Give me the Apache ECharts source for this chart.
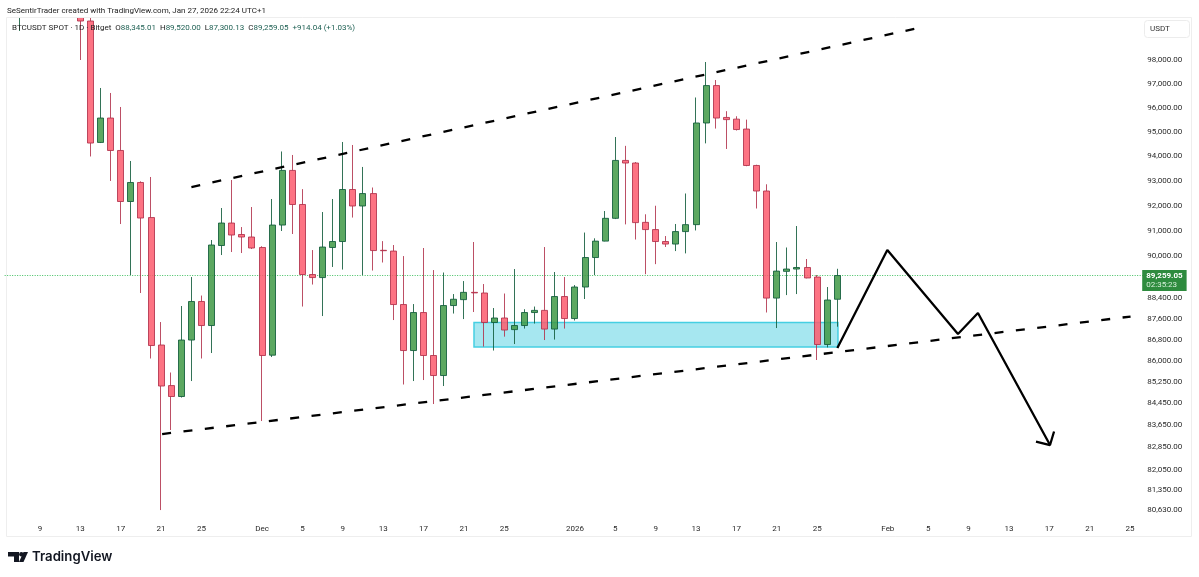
<!DOCTYPE html>
<html lang="en">
<head>
    <meta charset="UTF-8">
    <title>BTCUSDT 1D</title>
    <script src="https://cdn.jsdelivr.net/npm/echarts@6/dist/echarts.min.js"></script>
    <style>
        html, body { margin: 0; padding: 0; background: #fff; }
        #main { width: 1199px; height: 577px; }
    </style>
</head>
<body>
    <div id="main"></div>
    <script type="text/javascript">
        // daily candles from 6 Nov 2025: [open, close, low, high], null = off screen / no candle
        const candles = [
            null,
            [100300, 100900, 99240, 101500],
            null, null, null, null, null,
            [100500, 99670, 98000, 101800],
            [99670, 94535, 93986, 100200],
            [94560, 95565, 94535, 96818],
            [95565, 94231, 92993, 96609],
            [94231, 92169, 91274, 96024],
            [92169, 92932, 89278, 93802],
            [92932, 91512, 88585, 92980],
            [91530, 86591, 86105, 93154],
            [86610, 85084, 80630, 87477],
            [85100, 84698, 83477, 85584],
            [84698, 86797, 84660, 88087],
            [86797, 88260, 85268, 89200],
            [88260, 87345, 86105, 88488],
            [87345, 90447, 86310, 90643],
            [90428, 91313, 90055, 91910],
            [91313, 90840, 90173, 93033],
            [90860, 90762, 90134, 91155],
            [90762, 90330, 90290, 91950],
            [90350, 86217, 83803, 90400],
            [86230, 91233, 86160, 92269],
            [91233, 93420, 90998, 94190],
            [93420, 92050, 90880, 94047],
            [92050, 89298, 88067, 92665],
            [89298, 89180, 88911, 90250],
            [89180, 90368, 87705, 91750],
            [90350, 90584, 89590, 92269],
            [90584, 92650, 89490, 94578],
            [92650, 91990, 91530, 94455],
            [91990, 92487, 89278, 93560],
            [92487, 90230, 89452, 92730],
            [90240, 90225, 89764, 90600],
            [90210, 88143, 87553, 90447],
            [88143, 86403, 85140, 90015],
            [86403, 87838, 85268, 88162],
            [87838, 86217, 85305, 90330],
            [86217, 85472, 84423, 89470],
            [85472, 88105, 85084, 89375],
            [88105, 88345, 87800, 88545],
            [88330, 88610, 87590, 89045],
            [88610, 88590, 87858, 90565],
            [88585, 87460, 86553, 88930],
            [87460, 87630, 86403, 88010],
            [87630, 87175, 86925, 88565],
            [87190, 87345, 86647, 89510],
            [87345, 87838, 87230, 87965],
            [87838, 87920, 87420, 88067],
            [87920, 87210, 86797, 90368],
            [87210, 88450, 86815, 89395],
            [88450, 87610, 87230, 89200],
            [87610, 88815, 87535, 88890],
            [88815, 89958, 88355, 90937],
            [89958, 90600, 89278, 90710],
            [90600, 91500, 90590, 91790],
            [91500, 93825, 91470, 94782],
            [93825, 93720, 91260, 94420],
            [93720, 91330, 90663, 93760],
            [91340, 91055, 89310, 91660],
            [91055, 90584, 89700, 92000],
            [90584, 90485, 90370, 90800],
            [90485, 90975, 90210, 91275],
            [90975, 91250, 90120, 92490],
            [91250, 95360, 91020, 96420],
            [95360, 96920, 94522, 97915],
            [96920, 95565, 95130, 97154],
            [95590, 95500, 94292, 95850],
            [95520, 95090, 95050, 95640],
            [95110, 93620, 93590, 95500],
            [93620, 92590, 91890, 93650],
            [92590, 88390, 87840, 92860],
            [88390, 89430, 87250, 90565],
            [89420, 89510, 88505, 90350],
            [89510, 89570, 88545, 91195],
            [89570, 89165, 89150, 89900],
            [89200, 86630, 86049, 89278],
            [86630, 88316, 86520, 88815],
            [88345.01, 89259.05, 87300.13, 89520]
        ]

        // x axis: one slot per day, 6 Nov 2025 to 26 Feb 2026
        const days = []
        for (let d = Date.UTC(2025, 10, 6); d <= Date.UTC(2026, 1, 26); d += 86400000) {
            days.push(new Date(d).toISOString().slice(0, 10))
        }
        const dayLabels = {
            '2025-11-09': '9', '2025-11-13': '13', '2025-11-17': '17', '2025-11-21': '21', '2025-11-25': '25',
            '2025-12-01': 'Dec', '2025-12-05': '5', '2025-12-09': '9', '2025-12-13': '13', '2025-12-17': '17',
            '2025-12-21': '21', '2025-12-25': '25',
            '2026-01-01': '2026', '2026-01-05': '5', '2026-01-09': '9', '2026-01-13': '13', '2026-01-17': '17',
            '2026-01-21': '21', '2026-01-25': '25',
            '2026-02-01': 'Feb', '2026-02-05': '5', '2026-02-09': '9', '2026-02-13': '13', '2026-02-17': '17',
            '2026-02-21': '21', '2026-02-25': '25'
        }

        const priceTicks = [98000, 97000, 96000, 95000, 94000, 93000, 92000, 91000, 90000, 88400, 87600,
            86800, 86000, 85250, 84450, 83650, 82850, 82050, 81350, 80630]
        const priceMin = 80353
        const priceMax = 99844
        const lastPrice = 89259.05
        const countdown = '02:35:23'

        // hand drawn lines, x = position in day slots, y = price
        const upperTrend = [[18.5, 92750], [90.5, 99369]]
        const lowerTrend = [[15.6, 83332], [111.55, 87686]]
        const zigzag = [[82.5, 86500], [87.45, 90250], [94.45, 87024], [96.43, 87820], [103.57, 82935]]
        const arrowHead = [[102.18, 83060], [103.57, 82935], [103.97, 83423]]
        const zone = [[46.5, 87458], [82.56, 86535]]

        const upColor = '#3f9945'
        const upBorder = '#0f5a3a'
        const downColor = '#fd5a6d'
        const downBorder = '#b0304a'
        const textFont = 'Roboto'
        const textSize = 8

        const drawing = (name, data, dashed) => ({
            name: name,
            type: 'line',
            xAxisIndex: 1,
            data: data,
            symbol: 'none',
            silent: true,
            z: 6,
            lineStyle: { color: '#000', width: 2.3, type: dashed ? [9, 12.5] : 'solid' }
        })

        var myChart = echarts.init(document.getElementById('main'), null, { renderer: 'canvas' })

        var option = {
            animation: false,
            backgroundColor: '#fff',
            textStyle: { fontFamily: textFont },
            title: [
                {
                    text: 'SeSentirTrader created with TradingView.com, Jan 27, 2026 22:24 UTC+1',
                    left: 7, top: 6.5, padding: 0, z: 12,
                    textStyle: { fontSize: textSize, fontWeight: 'normal', color: '#222', fontFamily: textFont }
                },
                {
                    text: '{k|BTCUSDT SPOT · 1D · Bitget}  {k|O}{v|88,345.01}  {k|H}{v|89,520.00}  {k|L}{v|87,300.13}  {k|C}{v|89,259.05}  {v|+914.04 (+1.03%)}',
                    left: 12, top: 23.5, padding: 0, z: 12,
                    textStyle: {
                        fontSize: textSize,
                        fontWeight: 'normal',
                        fontFamily: textFont,
                        rich: {
                            k: { fontSize: textSize, color: '#222', fontFamily: textFont },
                            v: { fontSize: textSize, color: '#1d5f52', fontFamily: textFont }
                        }
                    }
                }
            ],
            grid: { left: 4.67, right: 53.8, top: 17, bottom: 59, containLabel: false },
            xAxis: [
                {
                    type: 'category',
                    data: days,
                    axisLine: { show: false },
                    axisTick: { show: false },
                    splitLine: { show: false },
                    axisLabel: {
                        interval: (index, value) => value in dayLabels,
                        formatter: (value) => dayLabels[value] || '',
                        color: '#2a2a2a',
                        fontFamily: textFont,
                        fontSize: textSize,
                        margin: 7
                    }
                },
                { type: 'value', min: 0, max: days.length, show: false }
            ],
            yAxis: {
                type: 'log',
                position: 'right',
                min: priceMin,
                max: priceMax,
                axisLine: { show: false },
                axisTick: { show: false },
                splitLine: { show: false },
                minorTick: { show: false },
                axisLabel: {
                    customValues: priceTicks,
                    formatter: (v) => Number(v).toLocaleString('en-US', { minimumFractionDigits: 2, maximumFractionDigits: 2 }),
                    color: '#2a2a2a',
                    fontFamily: textFont,
                    fontSize: textSize,
                    margin: 2,
                    padding: [4, 0, 0, 0],
                    showMinLabel: true,
                    showMaxLabel: true
                }
            },
            series: [
                {
                    name: 'BTCUSDT',
                    type: 'candlestick',
                    data: candles.map((c) => c || ['-', '-', '-', '-']),
                    barWidth: 6.5,
                    z: 3,
                    itemStyle: {
                        color: upColor,
                        color0: downColor,
                        borderColor: upBorder,
                        borderColor0: downBorder,
                        borderWidth: 1,
                        opacity: 0.85
                    },
                    markLine: {
                        silent: true,
                        symbol: 'none',
                        z: 2,
                        data: [{ yAxis: lastPrice }],
                        lineStyle: { color: '#3fbf5f', width: 1, type: [1, 1.5] },
                        label: {
                            show: true,
                            position: 'end',
                            distance: -3,
                            offset: [0, 5],
                            backgroundColor: '#2e8b3e',
                            padding: [1, 4, 1, 4],
                            formatter: () => '{a|89,259.05}\n{b|' + countdown + '}',
                            rich: {
                                a: { color: '#fff', fontSize: textSize, fontWeight: 'bold', lineHeight: 9.5, fontFamily: textFont },
                                b: { color: '#d6efd9', fontSize: textSize, lineHeight: 9.5, fontFamily: textFont }
                            }
                        }
                    }
                },
                {
                    name: 'Zone',
                    type: 'line',
                    xAxisIndex: 1,
                    data: [],
                    silent: true,
                    z: 1,
                    markArea: {
                        silent: true,
                        z: 1,
                        itemStyle: {
                            color: 'rgba(1,186,212,0.35)',
                            borderColor: '#45cfe2',
                            borderWidth: 1.5
                        },
                        data: [[{ coord: zone[0] }, { coord: zone[1] }]]
                    }
                },
                drawing('Upper trend', upperTrend, true),
                drawing('Lower trend', lowerTrend, true),
                drawing('Path', zigzag, false),
                drawing('Arrow head', arrowHead, false)
            ],
            graphic: [
                // white band above the pane, candles are not cut at the grid edge
                { type: 'rect', silent: true, z: 10, shape: { x: 0, y: 0, width: 1199, height: 17 }, style: { fill: '#fff' } },
                // chart frame
                { type: 'rect', silent: true, z: 11, shape: { x: 6.5, y: 17.5, width: 1185, height: 519 }, style: { fill: 'none', stroke: '#eeeeee', lineWidth: 1 } },
                // currency box
                { type: 'rect', silent: true, z: 11, shape: { x: 1144.5, y: 20.5, width: 45, height: 17, r: 3 }, style: { fill: '#fff', stroke: '#ececec', lineWidth: 1 } },
                { type: 'text', silent: true, z: 12, style: { x: 1150, y: 25, text: 'USDT', fill: '#333', font: textSize + 'px ' + textFont } },
                // logo
                { type: 'polygon', silent: true, shape: { points: [[8, 552], [19, 552], [19, 562], [14, 562], [14, 556.5], [8, 556.5]] }, style: { fill: '#131722' } },
                { type: 'circle', silent: true, shape: { cx: 21.3, cy: 554.3, r: 2.2 }, style: { fill: '#131722' } },
                { type: 'polygon', silent: true, shape: { points: [[23.5, 552], [28, 552], [23.5, 562], [19, 562]] }, style: { fill: '#131722' } },
                { type: 'text', silent: true, style: { x: 32, y: 550.5, text: 'TradingView', fill: '#131722', font: '600 13.2px Inter' } }
            ]
        }

        myChart.setOption(option)
    </script>
</body>
</html>
